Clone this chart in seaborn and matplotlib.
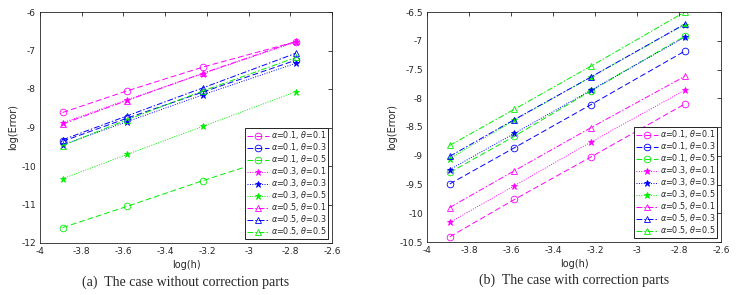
import matplotlib
matplotlib.use("Agg")
import matplotlib.pyplot as plt
import seaborn as sns

LOG_H = [-3.8918, -3.5835, -3.2189, -2.7726]

LABELS = [
    r"$\alpha$=0.1, $\theta$=0.1", r"$\alpha$=0.1, $\theta$=0.3", r"$\alpha$=0.1, $\theta$=0.5",
    r"$\alpha$=0.3, $\theta$=0.1", r"$\alpha$=0.3, $\theta$=0.3", r"$\alpha$=0.3, $\theta$=0.5",
    r"$\alpha$=0.5, $\theta$=0.1", r"$\alpha$=0.5, $\theta$=0.3", r"$\alpha$=0.5, $\theta$=0.5",
]

# (a) without correction parts
ERR_A = [
    [-8.61, -8.05, -7.43, -6.77],
    [-9.36, -8.76, -8.08, -7.25],
    [-11.60, -11.05, -10.38, -9.60],
    [-8.88, -8.28, -7.60, -6.78],
    [-9.45, -8.85, -8.15, -7.33],
    [-10.33, -9.70, -8.97, -8.07],
    [-8.91, -8.30, -7.59, -6.76],
    [-9.32, -8.70, -7.97, -7.07],
    [-9.47, -8.80, -8.05, -7.18],
]

# (b) with correction parts
ERR_B = [
    [-10.41, -9.76, -9.02, -8.10],
    [-9.49, -8.86, -8.11, -7.18],
    [-9.29, -8.66, -7.87, -6.92],
    [-10.16, -9.52, -8.76, -7.86],
    [-9.24, -8.61, -7.86, -6.94],
    [-9.05, -8.38, -7.63, -6.72],
    [-9.90, -9.26, -8.51, -7.62],
    [-9.01, -8.37, -7.63, -6.71],
    [-8.82, -8.19, -7.44, -6.50],
]

COLORS = ["#ff00ff", "#0000ff", "#00ee00"]
STYLES = [((0, (6, 3)), "o", "none"), ((0, (1, 1.5)), "*", None), ((0, (6, 2, 1.5, 2)), "^", "none")]


def draw_panel(ax, errors, ylim, yticks, caption):
    for i, (err, label) in enumerate(zip(errors, LABELS)):
        ls, mk, face = STYLES[i // 3]
        color = COLORS[i % 3]
        sns.lineplot(
            x=LOG_H, y=err, ax=ax, color=color, linestyle=ls, linewidth=0.7,
            marker=mk, markersize=4.8 if mk != "*" else 5,
            markerfacecolor=face if face else color,
            markeredgecolor=color, markeredgewidth=0.6,
            label=label,
        )
    ax.set_xlim(-4, -2.6)
    ax.set_xticks([-4, -3.8, -3.6, -3.4, -3.2, -3, -2.8, -2.6])
    ax.set_xticklabels(["-4", "-3.8", "-3.6", "-3.4", "-3.2", "-3", "-2.8", "-2.6"])
    ax.set_ylim(*ylim)
    ax.set_yticks(yticks)
    ax.set_yticklabels([f"{t:g}" for t in yticks])
    ax.tick_params(direction="in", top=True, right=True, labelsize=6.5, length=3, width=0.6, pad=3)
    for s in ax.spines.values():
        s.set_linewidth(0.6)
        s.set_color("#222222")
    ax.set_xlabel("log(h)", fontsize=7, labelpad=3)
    ax.set_ylabel("log(Error)", fontsize=7, labelpad=2)
    leg = ax.legend(loc="lower right", prop={"size": 5.8}, frameon=True, fancybox=False,
                    edgecolor="black", framealpha=1, borderpad=0.2, labelspacing=0.0,
                    handlelength=2.8, handleheight=0.6, handletextpad=0.2, borderaxespad=0.5)
    leg.get_frame().set_linewidth(0.6)
    ax.text(0.5, -0.168, caption, transform=ax.transAxes, ha="center", va="center",
            fontsize=10, family="Liberation Serif")


sns.set_style("white")
fig = plt.figure(figsize=(7.37, 2.95), dpi=100)
ax1 = fig.add_axes([40 / 737, 1 - 243 / 295, 292 / 737, 231 / 295])
ax2 = fig.add_axes([427 / 737, 1 - 242 / 295, 294 / 737, 230 / 295])

draw_panel(ax1, ERR_A, (-12, -6), [-12, -11, -10, -9, -8, -7, -6],
           "(a)  The case without correction parts")
draw_panel(ax2, ERR_B, (-10.5, -6.5), [-10.5, -10, -9.5, -9, -8.5, -8, -7.5, -7, -6.5],
           "(b)  The case with correction parts")

fig.savefig("out.png", dpi=100)
